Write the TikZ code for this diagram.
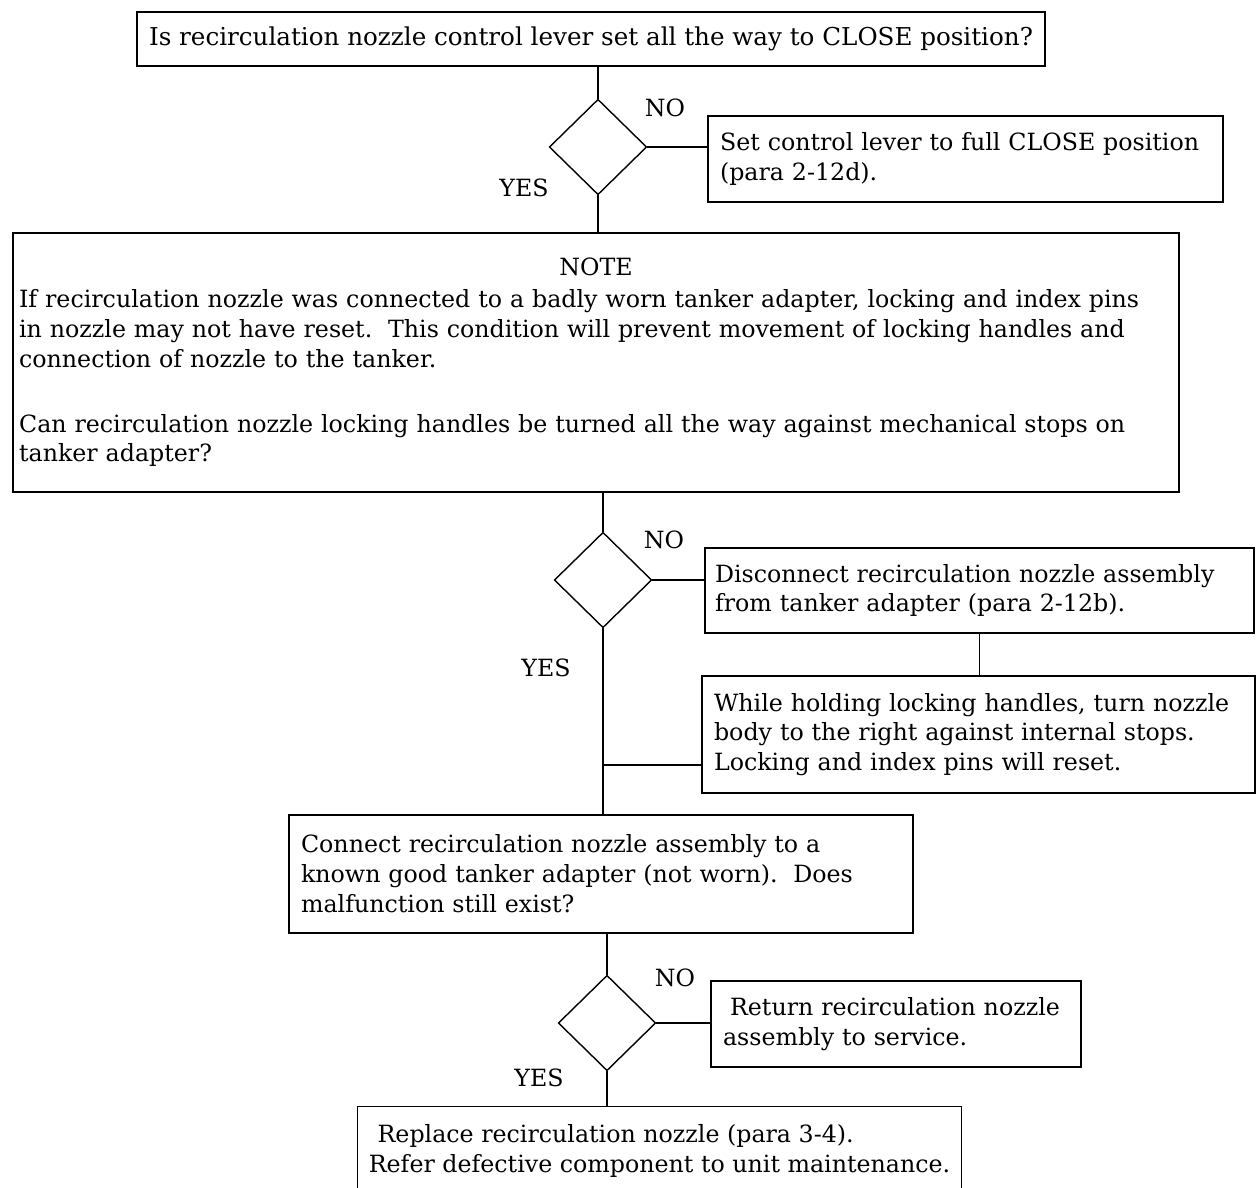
\documentclass[tikz,border=0pt]{standalone}
\usepackage{fontspec}
\setmainfont{DejaVu Serif}
\usetikzlibrary{shapes.geometric}
\tikzset{
  stepbox/.style={draw,line width=0.8pt,inner xsep=0.24cm,inner ysep=0pt,align=left},
  query/.style={draw,diamond,line width=0.8pt,inner sep=0pt,minimum width=1.95cm,minimum height=1.91cm},
  answer/.style={inner sep=0pt}
}
\begin{document}
\begin{tikzpicture}[x=0.02cm,y=-0.02cm,line width=0.8pt,font=\fontsize{13.5}{17}\selectfont]
  \useasboundingbox (0,0) rectangle (1257,1187);
  % first check
  \node[stepbox,minimum width=17.8cm,minimum height=1.08cm,align=center,font=\fontsize{14}{17}\selectfont] (q1) at (591,39)
    {Is recirculation nozzle control lever set all the way to CLOSE position?};
  \node[query] (dq1) at (598,147){};
  \node[stepbox,text width=9.82cm,minimum height=1.72cm] (s1) at (965.5,159)
    {Set control lever to full CLOSE position\\(para 2-12d).};
  \node[answer] (no1) at (665,108){NO};
  \node[answer] (yes1) at (524,188){YES};
  % note
  \node[stepbox,inner xsep=0.12cm,text width=23.08cm,minimum height=5.18cm] (note) at (596,362.5)
    {\makebox[\hsize]{NOTE}\\[1pt]
     If recirculation nozzle was connected to a badly worn tanker adapter, locking and index pins\\
     in nozzle may not have reset.\ \ This condition will prevent movement of locking handles and\\
     connection of nozzle to the tanker.\\[20pt]
     Can recirculation nozzle locking handles be turned all the way against mechanical stops on\\
     tanker adapter?};
  \node[query] (dq2) at (603,580){};
  \node[stepbox,inner xsep=0.2cm,text width=10.58cm,minimum height=1.7cm] (d1) at (979.5,590.5)
    {Disconnect recirculation nozzle assembly\\from tanker adapter (para 2-12b).};
  \node[stepbox,text width=10.58cm,minimum height=2.34cm] (d2) at (978.5,734.5)
    {While holding locking handles, turn nozzle\\body to the right against internal stops.\\Locking and index pins will reset.};
  \node[answer] (no2) at (664,540){NO};
  \node[answer] (yes2) at (546,668){YES};
  \coordinate (j) at (603,765);
  % good adapter check
  \node[stepbox,text width=12cm,minimum height=2.36cm] (c) at (601,874)
    {Connect recirculation nozzle assembly to a\\known good tanker adapter (not worn).\ \ Does\\malfunction still exist?};
  \node[query] (dq3) at (607,1023){};
  \node[stepbox,text width=6.92cm,minimum height=1.72cm] (r) at (896,1024)
    {\hspace*{4pt}Return recirculation nozzle\\assembly to service.};
  \node[answer] (no3) at (675,978){NO};
  \node[answer] (yes3) at (539,1078){YES};
  \node[stepbox,draw=none,inner xsep=0pt,minimum width=12.06cm,minimum height=1.76cm] (f) at (659.5,1151)
    {\hspace*{5pt}Replace recirculation nozzle (para 3-4).\\Refer defective component to unit maintenance.};
  \draw (f.south west) -- (f.north west) -- (f.north east) -- (f.south east);
  % connectors
  \draw (dq1.north |- q1.south) -- (dq1.north);
  \draw (dq1.east) -- (dq1.east -| s1.west);
  \draw (dq1.south) -- (dq1.south |- note.north);
  \draw (dq2.north |- note.south) -- (dq2.north);
  \draw (dq2.east) -- (dq2.east -| d1.west);
  \draw (d1.south) -- (d1.south |- d2.north);
  \draw (dq2.south) -- (dq2.south |- c.north);
  \draw (j -| d2.west) -- (j);
  \draw (dq3.north |- c.south) -- (dq3.north);
  \draw (dq3.east) -- (dq3.east -| r.west);
  \draw (dq3.south) -- (dq3.south |- f.north);
\end{tikzpicture}
\end{document}
